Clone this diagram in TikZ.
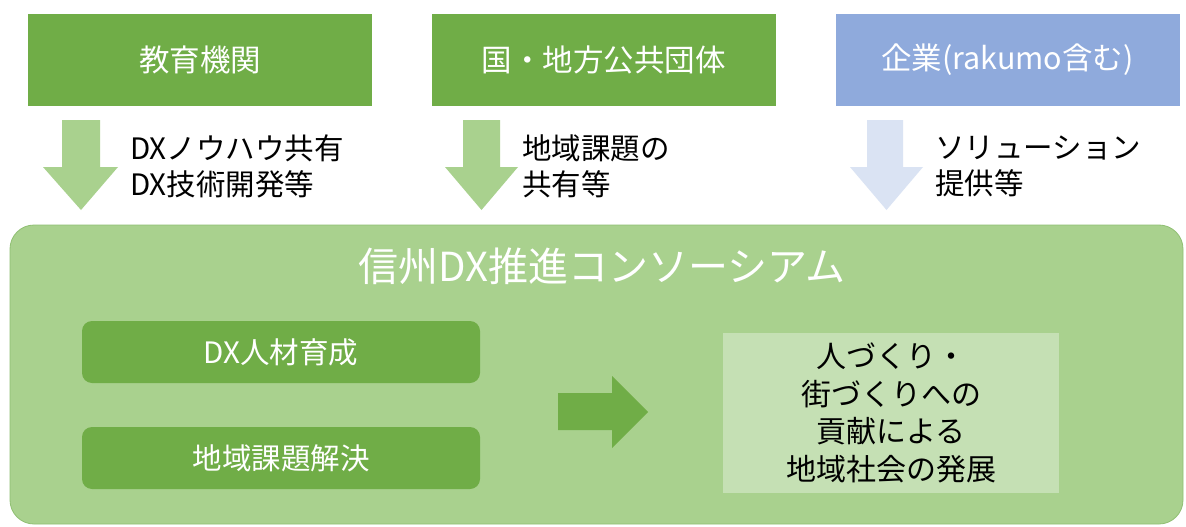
\documentclass[tikz,border=0pt]{standalone}
\usepackage{fontspec}
\setmainfont{Noto Sans CJK JP}
\newfontfamily\jp{Noto Sans CJK JP}
\definecolor{dkgreen}{HTML}{70AD47}
\definecolor{ltgreen}{HTML}{A9D18E}
\definecolor{pale}{HTML}{C5E0B4}
\definecolor{blueb}{HTML}{8FAADC}
\definecolor{ltblue}{HTML}{DAE3F3}
\definecolor{edge}{HTML}{8FBF72}
\tikzset{
  topbox/.style={fill=#1, draw=none, minimum width=344pt, minimum height=92pt, inner sep=0pt, text=white, font=\jp\fontsize{30.5}{34}\selectfont},
  subbox/.style={fill=dkgreen, draw=none, rounded corners=10pt, minimum width=398pt, minimum height=62pt, inner sep=0pt, text=white, font=\jp\fontsize{29.5}{33}\selectfont},
  lbl/.style={anchor=west, align=left, inner sep=0pt, text=black, font=\jp\fontsize{29.5}{36}\selectfont},
}
\begin{document}
\begin{tikzpicture}[x=1pt,y=-1pt]
\useasboundingbox (0,0) rectangle (1186,527);
\fill[white] (0,0) rectangle (1186,527);
% top boxes
\node[topbox=dkgreen] (edu) at (200,60) {教育機関};
\node[topbox=dkgreen] (gov) at (603.5,60) {国・地方公共団体};
\node[topbox=blueb] (corp) at (1007.5,60) {企業(rakumo含む)};
% down arrows
\fill[ltgreen] (62,120) -- (100,120) -- (100,167) -- (118,167) -- (81,210) -- (43,167) -- (62,167) -- cycle;
\fill[ltgreen] (463,120) -- (500,120) -- (500,167) -- (518,167) -- (481.5,210) -- (445,167) -- (463,167) -- cycle;
\fill[ltblue] (867,120) -- (903,120) -- (903,167) -- (923,167) -- (886.5,210) -- (850,167) -- (867,167) -- cycle;
% labels
\node[lbl] (l1) at (130,166) {DXノウハウ共有\\DX技術開発等};
\node[lbl] (l2) at (522,166) {地域課題の\\共有等};
\node[lbl] (l3) at (935,166) {ソリューション\\提供等};
% consortium
\node[fill=ltgreen, draw=edge, line width=0.8pt, rounded corners=24pt, minimum width=1173pt, minimum height=299pt, inner sep=0pt] (cons) at (596.5,374.5) {};
\node[text=white, font=\jp\fontsize{40}{44}\selectfont, inner sep=0pt] (title) at (602,266) {信州DX推進コンソーシアム};
\node[subbox] (hr) at (281,352) {DX人材育成};
\node[subbox] (reg) at (281,458) {地域課題解決};
\fill[dkgreen] (558,393) -- (612,393) -- (612,376) -- (648,412) -- (612,448) -- (612,430) -- (558,430) -- cycle;
\node[fill=pale, draw=none, minimum width=336pt, minimum height=160pt, inner sep=0pt, align=center, text=black, font=\jp\fontsize{30}{37.5}\selectfont] (res) at (891,413) {人づくり・\\街づくりへの\\貢献による\\地域社会の発展};
\end{tikzpicture}
\end{document}
